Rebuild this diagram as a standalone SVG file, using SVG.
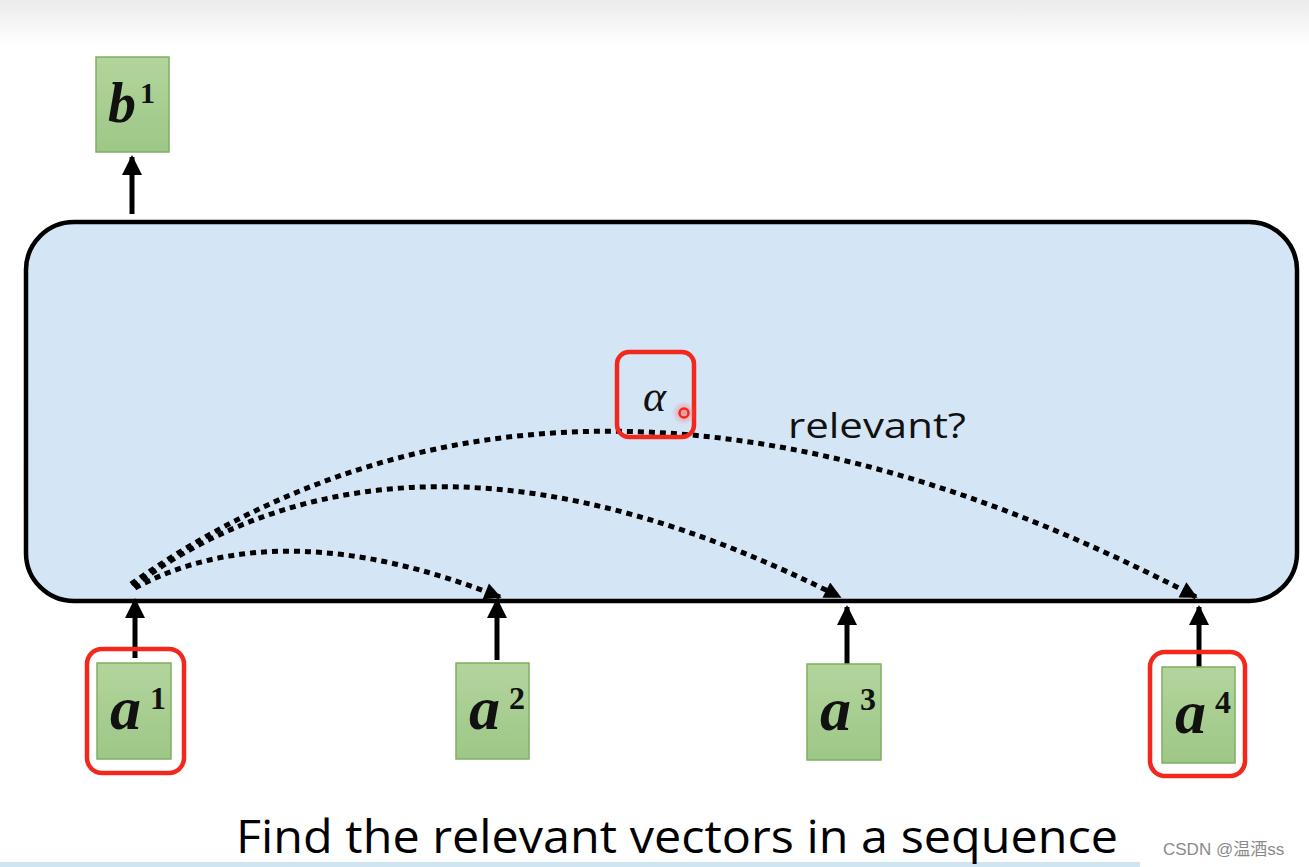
<svg xmlns="http://www.w3.org/2000/svg" width="1309" height="867" viewBox="0 0 1309 867">
<defs>
<linearGradient id="topbg" x1="0" y1="0" x2="0" y2="1">
<stop offset="0" stop-color="#ebebeb"/><stop offset="1" stop-color="#ffffff"/>
</linearGradient>
<linearGradient id="green" x1="0" y1="0" x2="0" y2="1">
<stop offset="0" stop-color="#b3d59c"/><stop offset="1" stop-color="#9dc787"/>
</linearGradient>
<radialGradient id="glow">
<stop offset="0" stop-color="#ff6a6a" stop-opacity="0.7"/><stop offset="1" stop-color="#ff6a6a" stop-opacity="0"/>
</radialGradient>
<marker id="ah" viewBox="0 0 10 10" refX="9" refY="5" markerWidth="4" markerHeight="3.4" orient="auto" markerUnits="strokeWidth">
<path d="M0,0 L10,5 L0,10 z" fill="#000"/>
</marker>
<marker id="sh" viewBox="0 0 10 10" refX="9" refY="5" markerWidth="4" markerHeight="4" orient="auto" markerUnits="strokeWidth">
<path d="M0,0 L10,5 L0,10 z" fill="#000"/>
</marker>
</defs>
<style>
.box{fill:url(#green);stroke:#7fae62;stroke-width:1.5}
.lbl{font-family:"Liberation Serif","DejaVu Serif",serif;font-weight:bold;font-style:italic;fill:#111}
.sup{font-family:"Liberation Serif","DejaVu Serif",serif;font-weight:bold;fill:#111}
.hl{fill:none;stroke:#f2281c;stroke-width:4.5}
.solid{stroke:#000;stroke-width:5;fill:none;marker-end:url(#sh)}
.dot{stroke:#000;stroke-width:5;fill:none;stroke-dasharray:6 5;marker-end:url(#ah)}
</style>
<rect x="0" y="0" width="1309" height="867" fill="#fff"/>
<rect x="0" y="0" width="1309" height="45" fill="url(#topbg)"/>
<rect x="0" y="862" width="1140" height="5" fill="#cfe6f2"/>

<g id="container">
<rect x="26" y="222" width="1271" height="379" rx="48" ry="48" fill="#d4e5f5" stroke="#000" stroke-width="4.5"/>
</g>

<g id="connectors">
<path class="solid" d="M132,214 L132,157"/>
<path class="solid" d="M135,658 L135,600"/>
<path class="solid" d="M497,660 L497,600"/>
<path class="solid" d="M847,665 L847,607"/>
<path class="solid" d="M1199,667 L1199,607"/>
<path class="dot" d="M135,588 Q280,510 500,597"/>
<path class="dot" d="M133,586 Q414,382 840,597"/>
<path class="dot" d="M131,584 Q575,272 1196,597"/>
</g>

<g id="b1">
<rect class="box" x="96" y="57" width="73" height="95"/>
<text class="lbl" x="108" y="122" font-size="56">b</text>
<text class="sup" x="140" y="103" font-size="30">1</text>
</g>

<g id="alpha">
<rect class="hl" x="617" y="352" width="77" height="85" rx="12"/>
<text x="643" y="411" font-family="Liberation Serif, DejaVu Serif, serif" font-style="italic" font-size="44" fill="#111">α</text>
<circle cx="684" cy="413" r="12" fill="url(#glow)"/>
<circle cx="684" cy="413" r="4.5" fill="none" stroke="#f2281c" stroke-width="2.5"/>
</g>

<g id="relevant">
<text x="788" y="438" font-family="Open Sans, Liberation Sans, sans-serif" font-size="35" fill="#111" textLength="178" lengthAdjust="spacingAndGlyphs">relevant?</text>
</g>

<g id="a1">
<rect class="box" x="97" y="663" width="74" height="96"/>
<text class="lbl" x="110" y="729" font-size="62">a</text>
<text class="sup" x="150" y="709" font-size="32">1</text>
<rect class="hl" x="87" y="649" width="97" height="124" rx="15"/>
</g>

<g id="a2">
<rect class="box" x="456" y="663" width="73" height="96"/>
<text class="lbl" x="469" y="729" font-size="62">a</text>
<text class="sup" x="509" y="709" font-size="32">2</text>
</g>

<g id="a3">
<rect class="box" x="807" y="664" width="74" height="96"/>
<text class="lbl" x="820" y="730" font-size="62">a</text>
<text class="sup" x="860" y="710" font-size="32">3</text>
</g>

<g id="a4">
<rect class="box" x="1162" y="667" width="73" height="96"/>
<text class="lbl" x="1175" y="733" font-size="62">a</text>
<text class="sup" x="1215" y="713" font-size="32">4</text>
<rect class="hl" x="1150" y="652" width="95" height="124" rx="15"/>
</g>

<g id="caption">
<text x="236" y="853" font-family="Open Sans, Liberation Sans, sans-serif" font-size="46" fill="#000" textLength="882" lengthAdjust="spacingAndGlyphs">Find the relevant vectors in a sequence</text>
<text x="1163" y="855" font-family="Liberation Sans, Noto Sans CJK SC, sans-serif" font-size="17" fill="#8a8a8a">CSDN @温酒ss</text>
</g>
</svg>
